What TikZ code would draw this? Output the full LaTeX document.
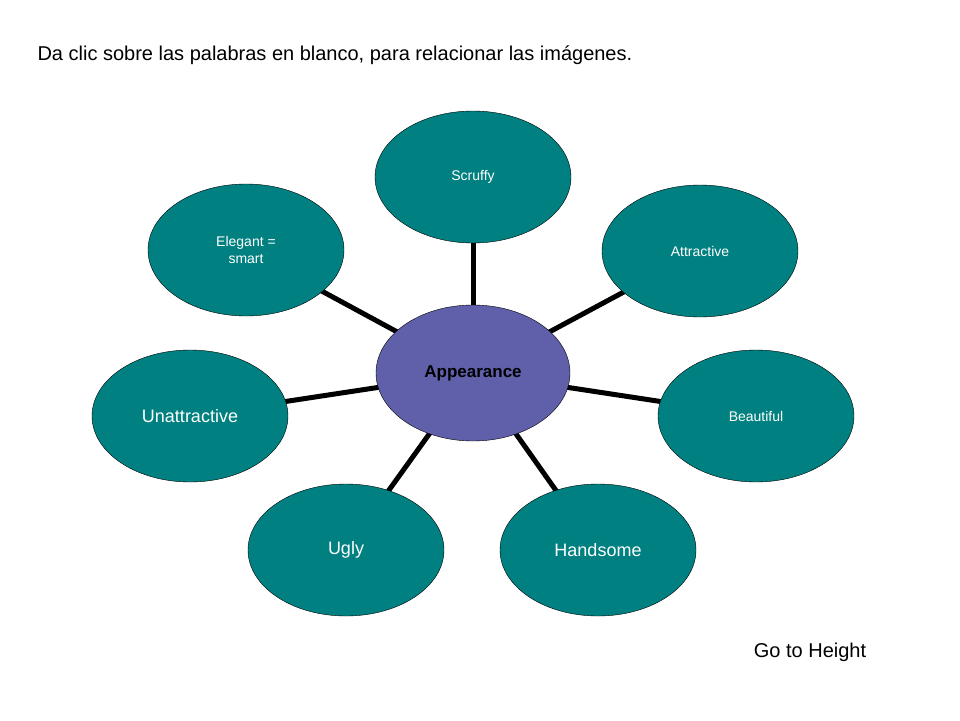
\documentclass[tikz,border=0pt]{standalone}
\usepackage{fontspec}
\setmainfont{Liberation Sans}
\usetikzlibrary{shapes.geometric,backgrounds}
\definecolor{tealfill}{HTML}{008080}
\definecolor{hubfill}{HTML}{5F5FAA}
\tikzset{
  leaf/.style={ellipse, draw=black, fill=tealfill, text=white,
    minimum width=196pt, minimum height=132pt, inner sep=0pt, align=center},
  hub/.style={ellipse, draw=black, fill=hubfill, text=black,
    minimum width=194pt, minimum height=136pt, inner sep=0pt,
    font=\fontsize{17}{20}\selectfont\bfseries},
  spoke/.style={line width=5pt, black},
  small/.style={font=\fontsize{14}{17}\selectfont},
  big/.style={font=\fontsize{18}{21}\selectfont}
}
\begin{document}
\begin{tikzpicture}[x=1pt,y=-1pt]
  \useasboundingbox (0,0) rectangle (960,720);
  \node[anchor=west, font=\fontsize{20}{24}\selectfont] (title) at (34,55)
    {Da clic sobre las palabras en blanco, para relacionar las imágenes.};
  \node[hub] (appear) at (473,373) {Appearance};
  \node[leaf, small] (scruffy) at (473,177) {Scruffy};
  \node[leaf, small] (attract) at (700,251) {Attractive};
  \node[leaf, small] (beauty) at (756,416) {Beautiful};
  \node[leaf, big] (hand) at (598,550) {Handsome};
  \node[leaf, big] (ugly) at (346,550) {Ugly};
  \node[leaf, big] (unattr) at (190,416) {Unattractive};
  \node[leaf, small] (elegant) at (246,250) {Elegant =\\smart};
  % spokes behind the ellipses
  \begin{pgfonlayer}{background}
    \foreach \leaf in {scruffy,attract,beauty,hand,ugly,unattr,elegant}
      \draw[spoke] (appear.center) -- (\leaf.center);
  \end{pgfonlayer}
  \node[font=\fontsize{20}{24}\selectfont] (goto) at (810,652) {Go to Height};
\end{tikzpicture}
\end{document}
